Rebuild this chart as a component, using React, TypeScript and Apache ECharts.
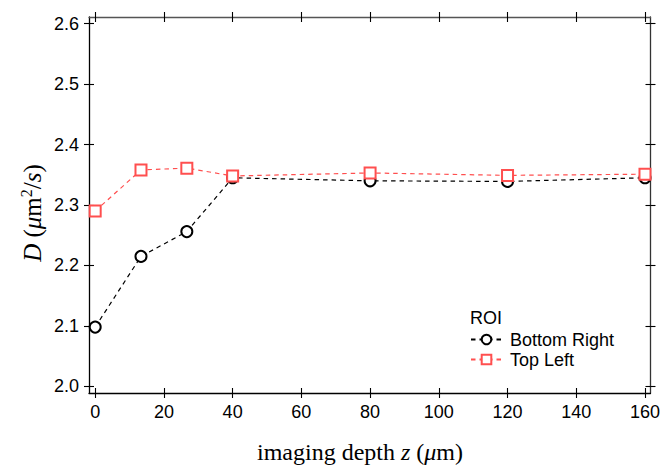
import React, { useEffect, useRef } from "react";
import * as echarts from "echarts";

const depths = [0, 13.33, 26.67, 40, 80, 120, 160];
const bottomRight = [2.098, 2.215, 2.256, 2.345, 2.34, 2.339, 2.345];
const topLeft = [2.29, 2.358, 2.361, 2.348, 2.353, 2.349, 2.351];
const seriesNames = ["Bottom Right", "Top Left"];
const xTicks = [0, 20, 40, 60, 80, 100, 120, 140, 160];
const yTicks = [2.0, 2.1, 2.2, 2.3, 2.4, 2.5, 2.6];

const X_MIN = -1.8;
const X_MAX = 161.6;
const Y_MIN = 1.989;
const Y_MAX = 2.611;

const SANS = "'Liberation Sans', Arial, Helvetica, sans-serif";
const SERIF = "'Liberation Serif', 'Times New Roman', serif";

function xAxisCfg(position: "top" | "bottom", inside: boolean, showLabel: boolean, lineColor: string, showLine: boolean) {
  return {
    type: "value",
    position,
    min: X_MIN,
    max: X_MAX,
    axisLine: { show: showLine, onZero: false, lineStyle: { color: lineColor, width: 1.3 } },
    axisTick: { show: true, inside, length: 5, customValues: xTicks, lineStyle: { color: "#000", width: 1.1 } },
    axisLabel: {
      show: showLabel,
      customValues: xTicks,
      margin: 10,
      fontSize: 18,
      fontFamily: SANS,
      color: "#000",
      formatter: (v: number) => String(v),
    },
    splitLine: { show: false },
  };
}

function yAxisCfg(position: "left" | "right", inside: boolean, showLabel: boolean, lineColor: string, showLine: boolean) {
  return {
    type: "value",
    position,
    min: Y_MIN,
    max: Y_MAX,
    axisLine: { show: showLine, onZero: false, lineStyle: { color: lineColor, width: 1.3 } },
    axisTick: { show: true, inside, length: 5, customValues: yTicks, lineStyle: { color: "#000", width: 1.1 } },
    axisLabel: {
      show: showLabel,
      customValues: yTicks,
      margin: 10,
      fontSize: 18,
      fontFamily: SANS,
      color: "#000",
      formatter: (v: number) => v.toFixed(1),
    },
    splitLine: { show: false },
  };
}

export default function App() {
  const ref = useRef<HTMLDivElement>(null);

  useEffect(() => {
    if (!ref.current) return;
    const chart = echarts.init(ref.current, null, { renderer: "svg" });
    const option: any = {
      animation: false,
      backgroundColor: "#fff",
      grid: { left: 89, right: 9, top: 17, bottom: 72, containLabel: false },
      xAxis: [
        xAxisCfg("bottom", false, true, "#000", true),
        xAxisCfg("bottom", true, false, "#000", false),
        xAxisCfg("top", false, false, "#555", true),
        xAxisCfg("top", true, false, "#555", false),
      ],
      yAxis: [
        yAxisCfg("left", false, true, "#000", true),
        yAxisCfg("left", true, false, "#000", false),
        yAxisCfg("right", false, false, "#333", true),
        yAxisCfg("right", true, false, "#333", false),
      ],
      legend: {
        orient: "vertical",
        left: 470,
        top: 330,
        padding: 0,
        itemWidth: 31,
        itemHeight: 12,
        itemGap: 1,
        data: seriesNames,
        textStyle: { fontSize: 18, fontFamily: SANS, color: "#000", lineHeight: 19, padding: [0, 0, 0, 3] },
      },
      series: [
        {
          name: seriesNames[0],
          type: "line",
          xAxisIndex: 0,
          yAxisIndex: 0,
          data: depths.map((d, i) => [d, bottomRight[i]]),
          symbol: "emptyCircle",
          symbolSize: 11,
          color: "#000",
          lineStyle: { color: "#000", width: 1.2, type: [4.5, 4] },
          itemStyle: { color: "#000", borderWidth: 1 },
        },
        {
          name: seriesNames[1],
          type: "line",
          xAxisIndex: 0,
          yAxisIndex: 0,
          data: depths.map((d, i) => [d, topLeft[i]]),
          symbol: "emptyRect",
          symbolSize: 11,
          color: "#ff4f4f",
          lineStyle: { color: "#ff4f4f", width: 1.2, type: [4.5, 4] },
          itemStyle: { color: "#ff4f4f", borderWidth: 1 },
        },
      ],
      graphic: [
        {
          type: "text",
          left: 470,
          top: 309,
          style: { text: "ROI", fontSize: 18, fontFamily: SANS, fill: "#000" },
        },
        {
          type: "text",
          x: 360,
          y: 452,
          style: {
            text: "{n|imaging depth }{i|z}{n| (}{i|μ}{n|m)}",
            align: "center",
            verticalAlign: "middle",
            fill: "#000",
            rich: {
              n: { fontSize: 24, fontFamily: SERIF, fill: "#000" },
              i: { fontSize: 24, fontFamily: SERIF, fontStyle: "italic", fill: "#000" },
            },
          },
        },
        {
          type: "text",
          x: 32,
          y: 213,
          rotation: Math.PI / 2,
          style: {
            text: "{i|D}{n| (}{i|μ}{n|m}{sup|2}{n|/}{i|s}{n|)}",
            align: "center",
            verticalAlign: "middle",
            fill: "#000",
            rich: {
              n: { fontSize: 25, fontFamily: SERIF, fill: "#000", lineHeight: 28 },
              i: { fontSize: 25, fontFamily: SERIF, fontStyle: "italic", fill: "#000", lineHeight: 28 },
              sup: { fontSize: 16, fontFamily: SERIF, fill: "#000", verticalAlign: "top", lineHeight: 16 },
            },
          },
        },
      ],
    };
    chart.setOption(option);
    return () => chart.dispose();
  }, []);

  return <div ref={ref} style={{ width: 663, height: 465, position: "absolute", left: 0, top: 0 }} />;
}
